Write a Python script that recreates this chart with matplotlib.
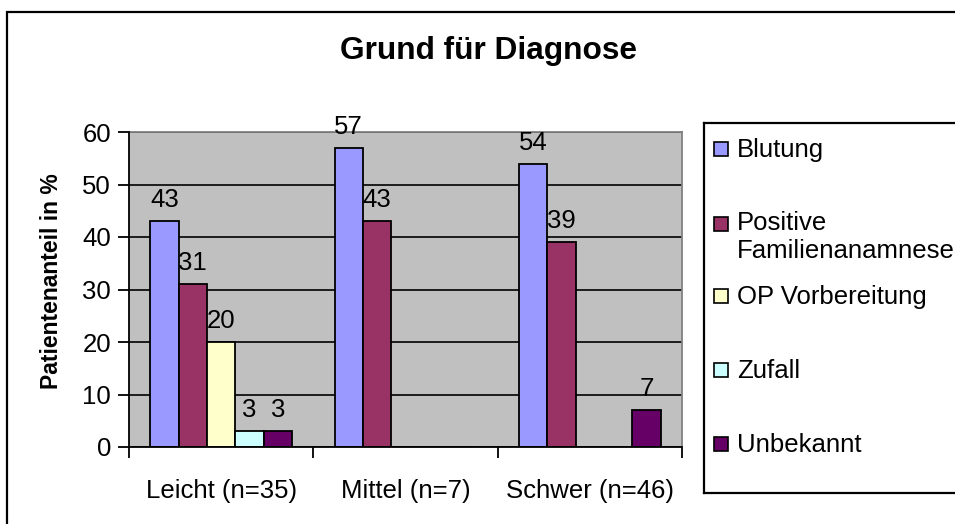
import matplotlib
matplotlib.use("Agg")
import matplotlib.pyplot as plt
from matplotlib.patches import Rectangle
import numpy as np

plt.rcParams['font.family'] = ['Liberation Sans', 'DejaVu Sans']

title = "Grund für Diagnose"
ylabel = "Patientenanteil in %"
categories = ["Leicht (n=35)", "Mittel (n=7)", "Schwer (n=46)"]
series_names = ["Blutung", "Positive\nFamilienanamnese", "OP Vorbereitung", "Zufall", "Unbekannt"]
blutung = [43, 57, 54]
familie = [31, 43, 39]
op_vorb = [20, 0, 0]
zufall = [3, 0, 0]
unbekannt = [3, 0, 7]
series_values = [blutung, familie, op_vorb, zufall, unbekannt]
colors = ["#9999FF", "#993366", "#FFFFCC", "#CCFFFF", "#660066"]
yticks = [0, 10, 20, 30, 40, 50, 60]

W, H = 955, 524
fig = plt.figure(figsize=(W / 100, H / 100), dpi=100)

def fx(px):
    return px / W

def fy(py):
    return 1 - py / H

FS = 18.5

# outer chart border (right and bottom edges cut off)
fig.patches.append(Rectangle((fx(7), fy(H + 20)), 1.2, fy(12) - fy(H + 20),
                             transform=fig.transFigure, fill=False,
                             edgecolor='black', lw=1.6, zorder=0))

ax = fig.add_axes([fx(129), fy(447), fx(682) - fx(129), fy(132) - fy(447)])
ax.set_facecolor("#C0C0C0")

n_series = len(series_values)
gap = 1.5
bw = 1.0 / (n_series + gap)
x = np.arange(len(categories))
for j, (vals, col) in enumerate(zip(series_values, colors)):
    pos = x - 0.5 + (gap / 2) * bw + (j + 0.5) * bw
    ax.bar(pos, vals, width=bw, color=col, edgecolor='black', lw=1.3, zorder=3)
    for p, v in zip(pos, vals):
        if v > 0:
            ax.annotate(f"{v}", (p, v), xytext=(0, 10), textcoords='offset points',
                        ha='center', va='baseline', fontsize=FS, zorder=4)

ax.set_xlim(-0.5, len(categories) - 0.5)
ax.set_ylim(0, 60)
ax.set_yticks(yticks)
ax.set_yticklabels([str(t) for t in yticks], fontsize=FS)
ax.yaxis.grid(True, color='black', lw=1.2, zorder=1)
ax.set_axisbelow(True)
ax.set_xticks(np.arange(len(categories) + 1) - 0.5)
ax.set_xticklabels([])
ax.set_xticks(x, minor=True)
ax.set_xticklabels(categories, minor=True, fontsize=FS)
ax.tick_params(axis='x', which='minor', length=0, pad=23)
ax.tick_params(axis='x', which='major', direction='out', length=8, width=1.3)
ax.tick_params(axis='y', direction='out', length=8, width=1.3, pad=5)
for s in ['left', 'bottom']:
    ax.spines[s].set_color('black')
    ax.spines[s].set_linewidth(1.3)
for s in ['top', 'right']:
    ax.spines[s].set_color('#808080')
    ax.spines[s].set_linewidth(1.3)
ax.spines['left'].set_zorder(5)
ax.spines['bottom'].set_zorder(5)

fig.text(fx(52), fy(281), ylabel, rotation=90, ha='center', va='center',
         fontsize=16.5, fontweight='bold')

fig.text(fx(488), fy(51), title, ha='center', va='center', fontsize=22.8, fontweight='bold')

# legend box (right edge cut off by image)
lax = fig.add_axes([fx(704), fy(493), fx(W + 20) - fx(704), fy(123) - fy(493)])
lax.set_xlim(704, W + 20)
lax.set_ylim(493, 123)
lax.set_xticks([])
lax.set_yticks([])
lax.patch.set_alpha(0)
for s in lax.spines.values():
    s.set_linewidth(1.6)
    s.set_color('black')
marker_centers = [149, 224, 296, 370, 444]
line_gap = 26
for name, col, yc in zip(series_names, colors, marker_centers):
    lax.add_patch(Rectangle((714, yc - 7), 14, 14, facecolor=col, edgecolor='black', lw=1.2))
    nlines = name.count("\n")
    lax.text(737, yc + 8 + nlines * line_gap, name, ha='left', va='baseline',
             fontsize=FS, linespacing=1.2)

fig.savefig("out.png", dpi=100)
